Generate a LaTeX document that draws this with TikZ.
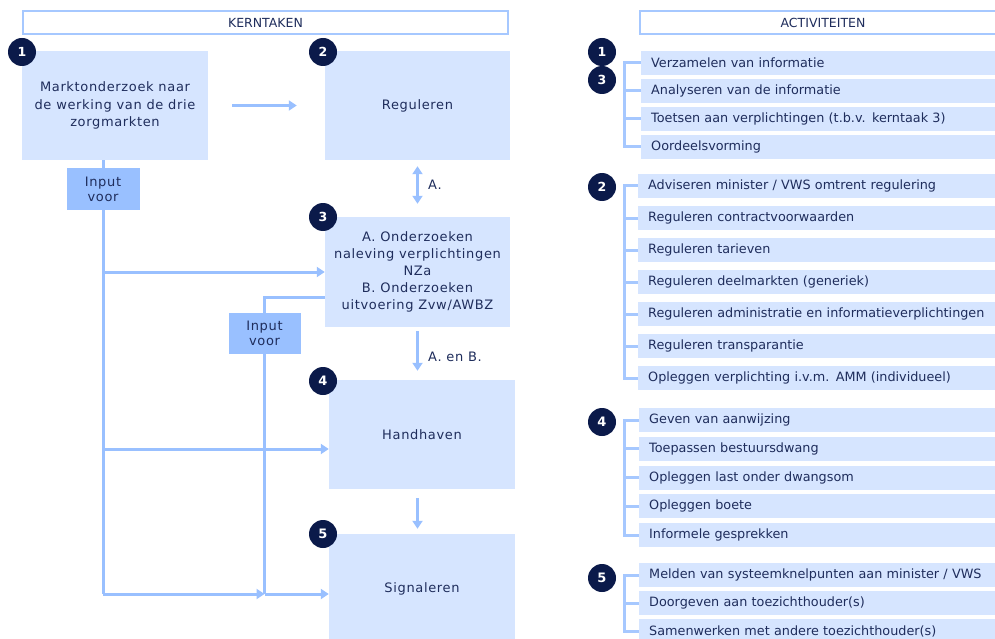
\documentclass[tikz,border=0pt]{standalone}
\usepackage{fontspec}
\setmainfont{DejaVu Sans}
\newfontfamily\spaced[LetterSpace=5]{DejaVu Sans}
\usetikzlibrary{arrows.meta}
\definecolor{boxblue}{HTML}{D6E5FF}
\definecolor{inblue}{HTML}{99C0FF}
\definecolor{lineblue}{HTML}{99C0FF}
\definecolor{brblue}{HTML}{A6C8FF}
\definecolor{navy}{HTML}{0B1A4A}
\definecolor{txt}{HTML}{1F2D5C}
\tikzset{
  kbox/.style={fill=boxblue, minimum width=186pt, minimum height=109pt, inner sep=0pt, align=center, text=txt, font=\spaced\fontsize{13}{17.2}\selectfont},
  inbox/.style={fill=inblue, minimum width=73pt, minimum height=42pt, inner sep=0pt, align=center, text=txt, font=\spaced\fontsize{13}{15}\selectfont},
  numc/.style={circle, fill=navy, minimum size=28pt, inner sep=0pt, text=white, font=\fontsize{12.5}{12.5}\selectfont\bfseries},
  numr/.style={numc, font=\fontsize{13}{13}\selectfont\rmfamily\bfseries},
  hdr/.style={draw=brblue, line width=1.5pt, fill=white, minimum height=23pt, inner sep=0pt, text=txt, font=\fontsize{12.5}{14}\selectfont},
  arow/.style={fill=boxblue, minimum height=24pt, text width=340pt, inner xsep=10pt, inner ysep=0pt, align=left, anchor=west, text=txt, font=\fontsize{12.8}{14}\selectfont},
  conn/.style={draw=lineblue, line width=3pt},
  arr/.style={conn, -{Triangle[width=10pt,length=8pt]}},
  darr/.style={conn, {Triangle[width=10pt,length=8pt]}-{Triangle[width=10pt,length=8pt]}},
  brk/.style={draw=brblue, line width=3pt},
  lbl/.style={text=txt, anchor=west, inner sep=0pt, font=\spaced\fontsize{13}{15}\selectfont}
}
\begin{document}
\begin{tikzpicture}[x=1pt, y=-1pt]
\clip (0,0) rectangle (995,639);
\fill[white] (0,0) rectangle (995,639);

% headers
\node[hdr, minimum width=485pt] (hk) at (265.5,22.5) {KERNTAKEN};
\node[hdr, minimum width=366pt] (ha) at (823,22.5) {ACTIVITEITEN};

% kerntaken boxes
\node[kbox] (k1) at (115,105.5) {Marktonderzoek naar\\de werking van de drie\\zorgmarkten};
\node[kbox, minimum width=185pt] (k2) at (417.5,105.5) {Reguleren};
\node[kbox, minimum width=185pt, minimum height=110pt] (k3) at (417.5,272) {A. Onderzoeken\\naleving verplichtingen\\NZa\\B. Onderzoeken\\uitvoering Zvw/AWBZ};
\node[kbox] (k4) at (422,434.5) {Handhaven};
\node[kbox] (k5) at (422,588.5) {Signaleren};

% input boxes
\node[inbox] (i1) at (103,189) {Input\\voor};
\node[inbox, minimum width=72pt, minimum height=41pt] (i2) at (264.5,333.5) {Input\\voor};

\coordinate (t1) at (i1.south |- 0,594);
\coordinate (t2) at (i2.south |- 0,594);

% connectors
\draw[arr] ([xshift=24pt]k1.east) -- ([xshift=-28pt]k2.west);
\draw[darr] ([yshift=-6pt]k2.south) -- ([yshift=13pt]k3.north);
\node[lbl] (la) at (428,185) {A.};
\draw[arr] ([yshift=-4pt]k3.south) -- ([yshift=9pt]k3.south |- k4.north);
\node[lbl] (lab) at (428,357) {A. en B.};
\draw[arr] ([yshift=-9pt]k3.south |- k4.south) -- ([yshift=5pt]k3.south |- k5.north);

\draw[conn] (i1.north |- k1.south) -- (i1.north);
\draw[conn] (i1.south) -- (t1);
\draw[arr] (t1 |- k3.west) -- (k3.west);
\draw[arr] (t1 |- 0,449) -- (k4.west |- 0,449);
\draw[arr] (t1) -- (t2);
\draw[arr] (t2) -- (k5.west |- t2);
\draw[conn] ([yshift=-25pt]k3.west) -| (i2.north);
\draw[conn] (i2.south) -- (t2);

% number circles left
\node[numc] (c1) at (22,52) {1};
\node[numc] (c2) at (323,52) {2};
\node[numc] (c3) at (323,217) {3};
\node[numr] (c4) at (323,381) {4};
\node[numr] (c5) at (323,534) {5};

% activiteiten group 1/3
\node[arow] (a1) at (641,63) {Verzamelen van informatie};
\node[arow] (a2) at (641,91) {Analyseren van de informatie};
\node[arow] (a3) at (641,119) {Toetsen aan verplichtingen (t.b.v. kerntaak 3)};
\node[arow] (a4) at (641,147) {Oordeelsvorming};
\draw[brk] (a1.west) -- ([xshift=-17pt]a1.west) -- ([xshift=-17pt]a1.west |- a4.west) -- (a4.west);
\foreach \r in {a2,a3} \draw[brk] (\r.west) -- ++(-17,0);
\node[numc] (g1) at (602,52) {1};
\node[numc] (g3) at (602,80) {3};

% group 2
\node[arow] (b1) at (638,186) {Adviseren minister / VWS omtrent regulering};
\node[arow] (b2) at (638,218) {Reguleren contractvoorwaarden};
\node[arow] (b3) at (638,250) {Reguleren tarieven};
\node[arow] (b4) at (638,282) {Reguleren deelmarkten (generiek)};
\node[arow] (b5) at (638,314) {Reguleren administratie en informatieverplichtingen};
\node[arow] (b6) at (638,346) {Reguleren transparantie};
\node[arow] (b7) at (638,378) {Opleggen verplichting i.v.m. AMM (individueel)};
\draw[brk] (b1.west) -- ([xshift=-14pt]b1.west) -- ([xshift=-14pt]b1.west |- b7.west) -- (b7.west);
\foreach \r in {b2,b3,b4,b5,b6} \draw[brk] (\r.west) -- ++(-14,0);
\node[numc] (g2) at (602,187) {2};

% group 4
\node[arow] (d1) at (639,420) {Geven van aanwijzing};
\node[arow] (d2) at (639,448.75) {Toepassen bestuursdwang};
\node[arow] (d3) at (639,477.5) {Opleggen last onder dwangsom};
\node[arow] (d4) at (639,506.25) {Opleggen boete};
\node[arow] (d5) at (639,535) {Informele gesprekken};
\draw[brk] (d1.west) -- ([xshift=-15pt]d1.west) -- ([xshift=-15pt]d1.west |- d5.west) -- (d5.west);
\foreach \r in {d2,d3,d4} \draw[brk] (\r.west) -- ++(-15,0);
\node[numr] (g4) at (602,422) {4};

% group 5
\node[arow] (e1) at (639,575) {Melden van systeemknelpunten aan minister / VWS};
\node[arow] (e2) at (639,603) {Doorgeven aan toezichthouder(s)};
\node[arow] (e3) at (639,631) {Samenwerken met andere toezichthouder(s)};
\draw[brk] (e1.west) -- ([xshift=-15pt]e1.west) -- ([xshift=-15pt]e1.west |- e3.west) -- (e3.west);
\draw[brk] (e2.west) -- ++(-15,0);
\node[numr] (g5) at (602,578) {5};
\end{tikzpicture}
\end{document}
